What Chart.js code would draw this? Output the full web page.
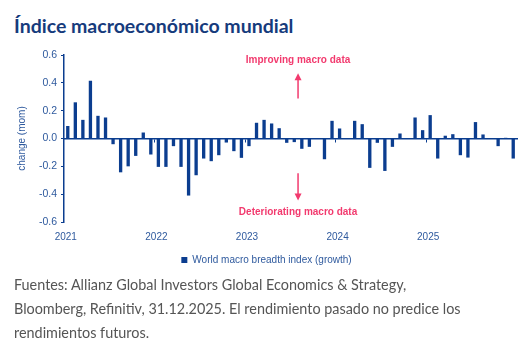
<!DOCTYPE html>
<html>
<head>
<meta charset="utf-8">
<script src="https://cdn.jsdelivr.net/npm/chart.js@4.4.1/dist/chart.umd.min.js"></script>
<style>
  html, body { margin: 0; padding: 0; background: #ffffff; width: 531px; height: 355px; overflow: hidden; }
  #title { position: absolute; left: 14px; top: 14px; font-family: Lato, "Open Sans", sans-serif; font-weight: 700; font-size: 19.5px; line-height: 1.2; color: #163b7c; white-space: nowrap; }
  #wrap { position: absolute; left: 0; top: 0; width: 531px; height: 275px; }
  #footer { position: absolute; left: 14px; top: 273px; font-family: Lato, "Open Sans", sans-serif; font-size: 14.4px; line-height: 24px; color: #555555; white-space: nowrap; }
</style>
</head>
<body>
<div id="title">Índice macroeconómico mundial</div>
<div id="wrap"><canvas id="c"></canvas></div>
<div id="footer">Fuentes: Allianz Global Investors Global Economics &amp; Strategy,<br>Bloomberg, Refinitiv, 31.12.2025. El rendimiento pasado no predice los<br>rendimientos futuros.</div>
<script>
// ---- Data ----
const years = ['2021', '2022', '2023', '2024', '2025'];
const months = ['01','02','03','04','05','06','07','08','09','10','11','12'];
const seriesName = 'World macro breadth index (growth)';
const values2021 = [0.09, 0.26, 0.134, 0.415, 0.163, 0.151, -0.041, -0.243, -0.2, -0.125, 0.043, -0.115];
const values2022 = [-0.204, -0.204, -0.055, -0.204, -0.41, -0.264, -0.144, -0.163, -0.12, -0.029, -0.091, -0.139];
const values2023 = [-0.055, 0.113, 0.134, 0.108, 0.074, -0.031, -0.026, -0.074, -0.06, 0, -0.149, 0.127];
const values2024 = [0.072, 0, 0.127, 0.103, -0.211, -0.031, -0.233, -0.06, 0.036, 0, 0.151, 0.06];
const values2025 = [0.168, -0.144, 0.02, 0.031, -0.12, -0.137, 0.118, 0.029, 0, -0.055, 0.005, -0.144];
const yTicks = [-0.6, -0.4, -0.2, 0.0, 0.2, 0.4, 0.6];
const yAxisTitle = 'change (mom)';
const upText = 'Improving macro data';
const downText = 'Deteriorating macro data';

// ---- Build ----
const categories = [];
years.forEach(y => months.forEach(m => categories.push(y + '-' + m)));
const values = [].concat(values2021, values2022, values2023, values2024, values2025);

const BLUE = '#0b3d8f';
const LABEL = '#2f5a9e';
const PINK = '#f23a6e';
const FONT = '"Liberation Sans", Arial, sans-serif';

const annotPlugin = {
  id: 'annot',
  afterDraw(chart) {
    const ctx = chart.ctx;
    const xs = chart.scales.x, ys = chart.scales.y;
    const cx = xs.getPixelForValue(30.5);
    ctx.save();
    ctx.fillStyle = PINK;
    ctx.strokeStyle = PINK;
    ctx.font = 'bold 10px ' + FONT;
    ctx.textAlign = 'center';
    ctx.textBaseline = 'middle';
    ctx.fillText(upText, cx, ys.getPixelForValue(0.562));
    ctx.fillText(downText, cx, ys.getPixelForValue(-0.53));
    function arrow(y0, y1) {
      const p0 = ys.getPixelForValue(y0), p1 = ys.getPixelForValue(y1);
      const dir = p1 < p0 ? -1 : 1;
      ctx.lineWidth = 1.5;
      ctx.beginPath();
      ctx.moveTo(cx, p0);
      ctx.lineTo(cx, p1 - dir * 6);
      ctx.stroke();
      ctx.beginPath();
      ctx.moveTo(cx - 3.5, p1 - dir * 7);
      ctx.lineTo(cx + 3.5, p1 - dir * 7);
      ctx.lineTo(cx, p1);
      ctx.closePath();
      ctx.fill();
    }
    arrow(0.288, 0.468);
    arrow(-0.25, -0.445);
    ctx.restore();
  }
};

new Chart(document.getElementById('c'), {
  type: 'bar',
  data: {
    labels: categories,
    datasets: [{
      label: seriesName,
      data: values,
      backgroundColor: BLUE,
      borderWidth: 0,
      categoryPercentage: 1,
      barPercentage: 0.44,
      xAxisID: 'x',
      yAxisID: 'y'
    }]
  },
  options: {
    responsive: true,
    maintainAspectRatio: false,
    animation: false,
    layout: { padding: { top: 55, left: 16, right: 14, bottom: 0 } },
    plugins: {
      legend: {
        position: 'bottom',
        labels: {
          boxWidth: 6, boxHeight: 6, padding: 6,
          color: LABEL,
          font: { family: FONT, size: 10 }
        }
      },
      tooltip: { enabled: false }
    },
    scales: {
      x: {
        type: 'category',
        position: 'bottom',
        offset: true,
        border: { display: false },
        grid: { display: false, drawTicks: false },
        ticks: {
          autoSkip: false, maxRotation: 0, minRotation: 0,
          padding: 9, labelOffset: -2,
          color: LABEL,
          font: { family: FONT, size: 10 },
          callback: (v, i) => (i % 12 === 0 ? years[i / 12] : '')
        },
        afterFit: s => { s.height = 27; }
      },
      x2: {
        type: 'category',
        position: { y: 0 },
        offset: true,
        border: { display: true, color: BLUE, width: 1.5 },
        grid: {
          offset: true, drawOnChartArea: false, drawTicks: true, tickLength: 3, lineWidth: 1,
          color: c => (c.index % 12 === 0 && c.index > 0 ? BLUE : 'rgba(0,0,0,0)')
        },
        ticks: { display: false }
      },
      y: {
        type: 'linear',
        min: -0.6, max: 0.6,
        afterBuildTicks: s => { s.ticks = yTicks.map(v => ({ value: v })); },
        border: { display: true, color: BLUE, width: 1.5 },
        grid: { drawOnChartArea: false, drawTicks: true, tickLength: 3, color: BLUE },
        ticks: {
          padding: 4,
          color: LABEL,
          font: { family: FONT, size: 10.5 },
          callback: v => v.toFixed(1)
        },
        title: {
          display: true, text: yAxisTitle, color: LABEL,
          font: { family: FONT, size: 10 },
          padding: { top: 0, bottom: 0 }
        },
        afterFit: s => { s.width = 48; }
      }
    }
  },
  plugins: [annotPlugin]
});
</script>
</body>
</html>
